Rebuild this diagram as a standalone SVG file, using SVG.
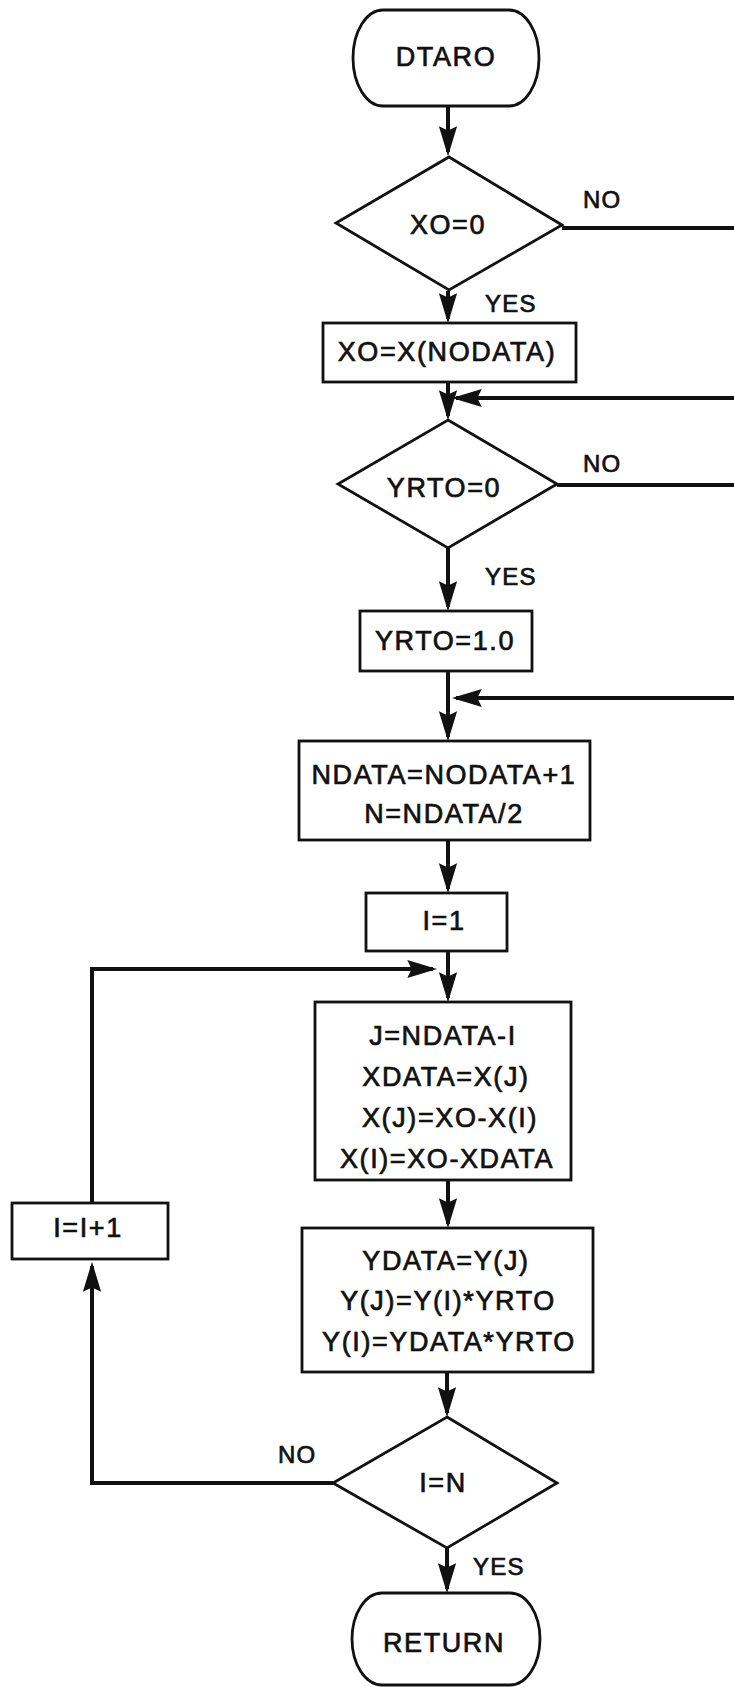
<svg xmlns="http://www.w3.org/2000/svg" width="734" height="1687" viewBox="0 0 734 1687">
<style>
.shape{fill:#fff;stroke:#111;stroke-width:2.8}
.conn{fill:none;stroke:#111;stroke-width:4}
.t{font-family:"Liberation Sans",Arial,Helvetica,sans-serif;font-size:27px;letter-spacing:1.6px;text-anchor:middle;fill:#111;stroke:#111;stroke-width:0.7}
.lbl{font-family:"Liberation Sans",Arial,Helvetica,sans-serif;font-size:24px;letter-spacing:1.2px;fill:#111;stroke:#111;stroke-width:0.7}
</style>
<defs>
<marker id="ah" markerUnits="userSpaceOnUse" markerWidth="30" markerHeight="20" viewBox="0 0 28 18" refX="24" refY="9" orient="auto">
<path d="M0,0.5 L28,9 L0,17.5 L4,9 z" fill="#111"/>
</marker>
</defs>
<rect width="734" height="1687" fill="#fff"/>
<g id="connectors">
<path class="conn" d="M448,106 V152" marker-end="url(#ah)"/>
<path class="conn" d="M448,291 V319" marker-end="url(#ah)"/>
<path class="conn" d="M562,228 H734"/>
<path class="conn" d="M448,382 V416" marker-end="url(#ah)"/>
<path class="conn" d="M734,398 H456" marker-end="url(#ah)"/>
<path class="conn" d="M557,485 H734"/>
<path class="conn" d="M448,548 V607" marker-end="url(#ah)"/>
<path class="conn" d="M448,671 V737" marker-end="url(#ah)"/>
<path class="conn" d="M734,698 H456" marker-end="url(#ah)"/>
<path class="conn" d="M448,840 V889" marker-end="url(#ah)"/>
<path class="conn" d="M448,951 V998" marker-end="url(#ah)"/>
<path class="conn" d="M92,1203 V969 H433" marker-end="url(#ah)"/>
<path class="conn" d="M448,1180 V1224" marker-end="url(#ah)"/>
<path class="conn" d="M447,1372 V1413" marker-end="url(#ah)"/>
<path class="conn" d="M333,1483 H92 V1266" marker-end="url(#ah)"/>
<path class="conn" d="M447,1548 V1589" marker-end="url(#ah)"/>
<text class="lbl" x="583" y="208">NO</text>
<text class="lbl" x="485" y="312">YES</text>
<text class="lbl" x="583" y="472">NO</text>
<text class="lbl" x="485" y="585">YES</text>
<text class="lbl" x="278" y="1463">NO</text>
<text class="lbl" x="473" y="1575">YES</text>
</g>
<g id="start">
<rect class="shape" x="353" y="10" width="186" height="96" rx="30" ry="48"/>
<text class="t" x="446" y="66">DTARO</text>
</g>
<g id="dec-xo">
<polygon class="shape" points="449,157 562,225 449,290 336,223"/>
<text class="t" x="448" y="234">XO=0</text>
</g>
<g id="set-xo">
<rect class="shape" x="323" y="323" width="253" height="59"/>
<text class="t" x="447" y="361">XO=X(NODATA)</text>
</g>
<g id="dec-yrto">
<polygon class="shape" points="448,420 557,484 448,548 338,484"/>
<text class="t" x="444" y="497">YRTO=0</text>
</g>
<g id="set-yrto">
<rect class="shape" x="360" y="611" width="172" height="60"/>
<text class="t" x="445" y="650">YRTO=1.0</text>
</g>
<g id="ndata">
<rect class="shape" x="299" y="741" width="291" height="99"/>
<text class="t" x="444" y="784">NDATA=NODATA+1</text>
<text class="t" x="444" y="823">N=NDATA/2</text>
</g>
<g id="init-i">
<rect class="shape" x="366" y="893" width="141" height="58"/>
<text class="t" x="444" y="930">I=1</text>
</g>
<g id="swap-x">
<rect class="shape" x="315" y="1002" width="256" height="178"/>
<text class="t" x="443" y="1045">J=NDATA-I</text>
<text class="t" x="446" y="1086">XDATA=X(J)</text>
<text class="t" x="450" y="1127">X(J)=XO-X(I)</text>
<text class="t" x="447" y="1168">X(I)=XO-XDATA</text>
</g>
<g id="swap-y">
<rect class="shape" x="302" y="1228" width="291" height="144"/>
<text class="t" x="446" y="1270">YDATA=Y(J)</text>
<text class="t" x="448" y="1310">Y(J)=Y(I)*YRTO</text>
<text class="t" x="449" y="1351">Y(I)=YDATA*YRTO</text>
</g>
<g id="dec-in">
<polygon class="shape" points="447,1417 557,1483 447,1548 333,1483"/>
<text class="t" x="443" y="1492">I=N</text>
</g>
<g id="inc-i">
<rect class="shape" x="12" y="1203" width="156" height="56"/>
<text class="t" x="88" y="1237">I=I+1</text>
</g>
<g id="end">
<rect class="shape" x="352" y="1593" width="188" height="92" rx="30" ry="46"/>
<text class="t" x="444" y="1652">RETURN</text>
</g>
</svg>
